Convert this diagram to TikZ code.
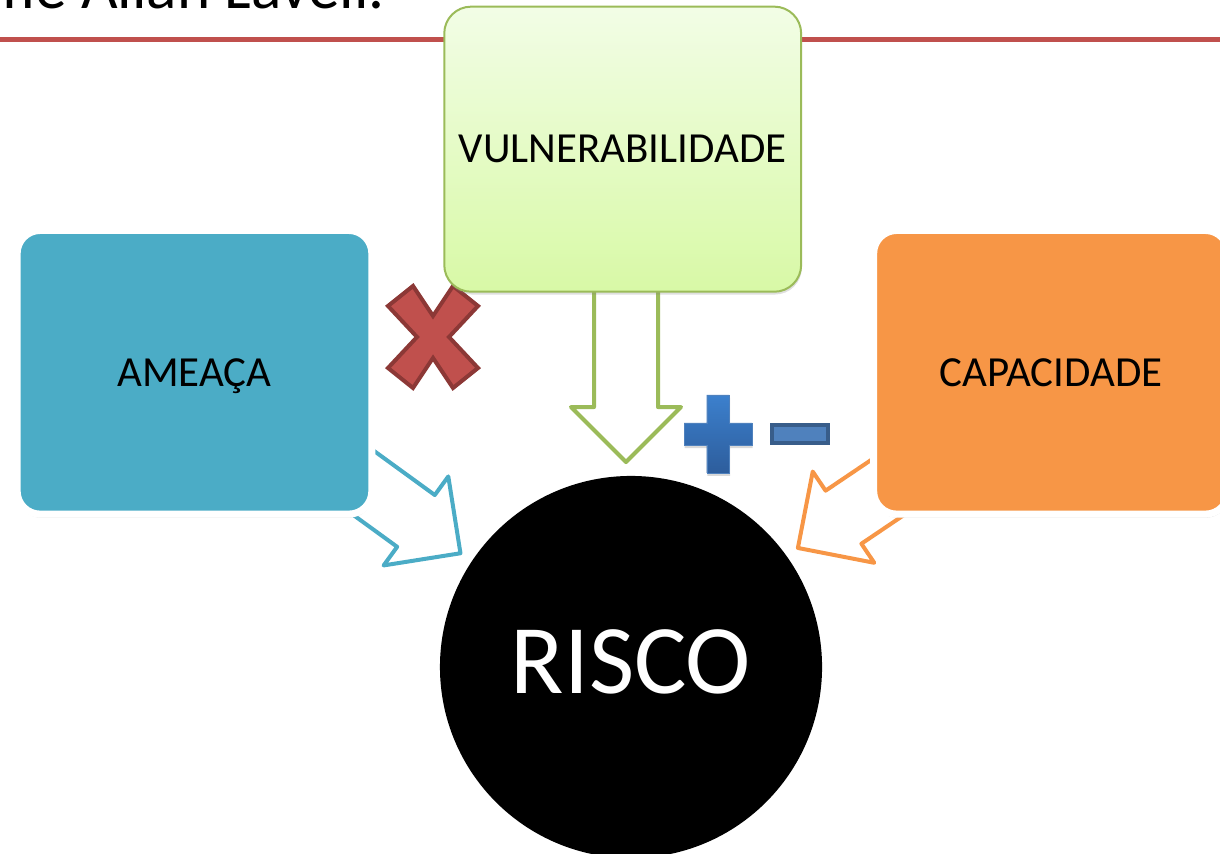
\documentclass[tikz,border=0pt]{standalone}
\usepackage{fontspec}
\setmainfont{Carlito}
\usetikzlibrary{calc,shadows}
\definecolor{linered}{HTML}{C0504D}
\definecolor{xborder}{HTML}{8C3836}
\definecolor{ameaca}{HTML}{4BACC6}
\definecolor{capac}{HTML}{F79646}
\definecolor{vulnborder}{HTML}{9BBB59}
\definecolor{vulntop}{HTML}{F2FDE6}
\definecolor{vulnbot}{HTML}{D8F9A6}
\definecolor{plustop}{HTML}{3C80CD}
\definecolor{plusbot}{HTML}{2D5D9C}
\definecolor{minusfill}{HTML}{4F81BD}
\definecolor{minusborder}{HTML}{385D8A}
\tikzset{
  pics/hollowarrow/.style={code={
    \draw[pic actions] (0,0) -- (-55,55) -- (-55,32) -- (-#1,32) -- (-#1,-32) -- (-55,-32) -- (-55,-55) -- cycle;
  }},
}
\begin{document}
\begin{tikzpicture}[x=0.025cm,y=0.025cm,
  sidebox/.style={rounded corners=0.575cm, draw=white, line width=0.175cm,
    minimum width=8.865cm, minimum height=7.09cm, text depth=0pt,
    font=\fontsize{30.5}{36}\selectfont,
    drop shadow={opacity=0.3, shadow xshift=0.5pt, shadow yshift=-2.5pt}},
  blkarrow/.style={line width=0.1cm, line join=round}]
\clip (0,0) rectangle (1220,853);
% Title and rule
\node[anchor=base east, font=\fontsize{45}{54}\selectfont] (titulo) at (390,844) {conforme Allan Lavell.};
\draw[linered, line width=0.125cm] (0,813.5) -- (1220,813.5);
% Risk
\node[circle, fill=black, minimum size=9.55cm, inner sep=0pt, text=white,
  font=\fontsize{70}{84}\selectfont, text depth=7.1pt] (risco) at (631,186) {RISCO};
% Arrows
\pic[draw=vulnborder, blkarrow, rotate=-90] (setav) at ($(risco)+(91.4:205)$) {hollowarrow=180};
\pic[draw=ameaca, blkarrow, rotate=-36] (setaa) at ($(risco)+(146.3:205)$) {hollowarrow=155};
\pic[draw=capac, blkarrow, rotate=214] (setac) at ($(risco)+(35.5:205)$) {hollowarrow=155};
% Times sign
\draw[shift={(433,516)}, fill=linered, draw=xborder, line width=0.1cm]
  (-20,51) -- (0,21) -- (20,51) -- (45,31) -- (16,0) -- (45,-31) -- (20,-51) -- (0,-21)
  -- (-20,-51) -- (-45,-31) -- (-16,0) -- (-45,31) -- cycle;
% Boxes
\node[sidebox, fill=ameaca] (ameaca) at (194.5,480.7) {AMEAÇA};
\node[sidebox, fill=capac] (capacidade) at (1051,480.7) {CAPACIDADE};
\node[draw=vulnborder, line width=0.05cm, top color=vulntop, bottom color=vulnbot,
  rounded corners=0.67cm, minimum width=8.92cm, minimum height=7.125cm,
  font=\fontsize{30.5}{36}\selectfont,
  drop shadow={opacity=0.25, shadow xshift=0.5pt, shadow yshift=-2pt}] (vuln) at (622.7,703.8) {VULNERABILIDADE};
% Plus and minus
\draw[shift={(718,419)}, top color=plustop, bottom color=plusbot, draw=minusfill, line width=0.3pt,
  drop shadow={opacity=0.3, shadow xshift=0.5pt, shadow yshift=-2pt}]
  (-11.3,39) -- (11.3,39) -- (11.3,11.2) -- (34,11.2) -- (34,-11.2) -- (11.3,-11.2) -- (11.3,-39)
  -- (-11.3,-39) -- (-11.3,-11.2) -- (-34,-11.2) -- (-34,11.2) -- (-11.3,11.2) -- cycle;
\draw[fill=minusfill, draw=minusborder, line width=0.1cm] (800,419) +(-28.3,-9) rectangle +(28.3,9);
\end{tikzpicture}
\end{document}
